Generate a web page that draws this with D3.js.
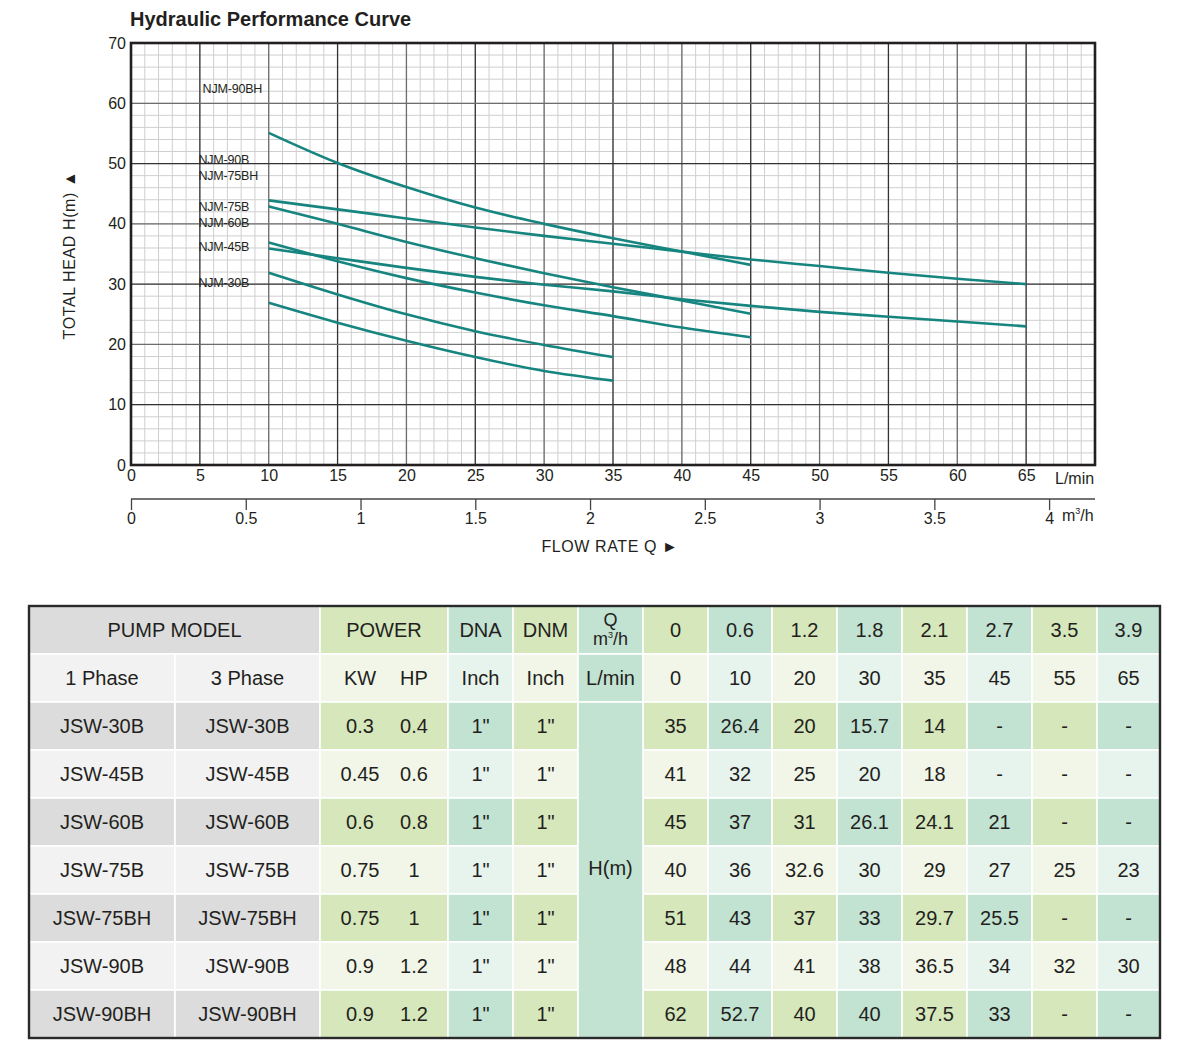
<!DOCTYPE html>
<html><head><meta charset="utf-8">
<script src="https://cdn.jsdelivr.net/npm/d3@7/dist/d3.min.js"></script>
<style>
html,body{margin:0;padding:0;background:#fff;}
svg{display:block;font-family:"Liberation Sans",Arial,sans-serif;}
</style></head>
<body>
<svg id="c" width="1188" height="1063"></svg>
<script>
// ---------- DATA ----------
const flowPts = [10,15,20,25,30,35,40,45,50,55,60,65];
const seriesNames = ["NJM-90BH","NJM-90B","NJM-75BH","NJM-60B","NJM-75B","NJM-45B","NJM-30B"];
const h90BH = [55.1,50.1,46.1,42.7,40.0,37.6,35.4,33.2];
const h90B  = [43.9,42.4,40.9,39.4,38.0,36.7,35.4,34.1,33.0,31.9,30.9,30.0];
const h75BH = [42.9,40.0,37.0,34.3,31.8,29.5,27.3,25.1];
const h60B  = [36.9,33.8,31.0,28.6,26.5,24.7,22.8,21.2];
const h75B  = [35.9,34.3,32.7,31.2,29.9,28.8,27.5,26.4,25.4,24.6,23.8,23.0];
const h45B  = [31.9,28.3,25.0,22.2,19.9,17.9];
const h30B  = [26.9,23.6,20.6,17.9,15.6,14.0];
const allHeads = [h90BH,h90B,h75BH,h60B,h75B,h45B,h30B];

const labelNames = ["NJM-90BH","NJM-90B","NJM-75BH","NJM-75B","NJM-60B","NJM-45B","NJM-30B"];
const labelX = [5.2,4.9,4.9,4.9,4.9,4.9,4.9];
const labelY = [62.5,50.7,48.0,42.9,40.3,36.2,30.3];

const lminTicks = [0,5,10,15,20,25,30,35,40,45,50,55,60,65];
const m3hTicks = [0,0.5,1,1.5,2,2.5,3,3.5,4];
const headTicks = [0,10,20,30,40,50,60,70];

// table data
const flowM3 = ["0","0.6","1.2","1.8","2.1","2.7","3.5","3.9"];
const flowL  = ["0","10","20","30","35","45","55","65"];
const models1 = ["JSW-30B","JSW-45B","JSW-60B","JSW-75B","JSW-75BH","JSW-90B","JSW-90BH"];
const models3 = ["JSW-30B","JSW-45B","JSW-60B","JSW-75B","JSW-75BH","JSW-90B","JSW-90BH"];
const kw = ["0.3","0.45","0.6","0.75","0.75","0.9","0.9"];
const hp = ["0.4","0.6","0.8","1","1","1.2","1.2"];
const dna = ["1\"","1\"","1\"","1\"","1\"","1\"","1\""];
const dnm = ["1\"","1\"","1\"","1\"","1\"","1\"","1\""];
const heads = [
  ["35","26.4","20","15.7","14","-","-","-"],
  ["41","32","25","20","18","-","-","-"],
  ["45","37","31","26.1","24.1","21","-","-"],
  ["40","36","32.6","30","29","27","25","23"],
  ["51","43","37","33","29.7","25.5","-","-"],
  ["48","44","41","38","36.5","34","32","30"],
  ["62","52.7","40","40","37.5","33","-","-"]
];

// ---------- CHART ----------
const svg = d3.select("#c");
const x = d3.scaleLinear().domain([0,70]).range([131,1095]);
const y = d3.scaleLinear().domain([0,70]).range([465,43]);
const x2 = d3.scaleLinear().domain([0,4.2]).range([131,1095]);
const ink = "#231f20";
const FF = "Liberation Sans, Arial, sans-serif";

svg.append("text").attr("x",130).attr("y",26).attr("font-size",20).attr("font-weight","bold")
  .attr("fill",ink).text("Hydraulic Performance Curve");

const g = svg.append("g");
// minor grid
g.selectAll(".vm").data(d3.range(1,70)).join("line")
  .attr("x1",d=>x(d)).attr("x2",d=>x(d)).attr("y1",y(0)).attr("y2",y(70))
  .attr("stroke","#cfcfcf").attr("stroke-width",1);
g.selectAll(".hm").data(d3.range(2,70,2)).join("line")
  .attr("y1",d=>y(d)).attr("y2",d=>y(d)).attr("x1",x(0)).attr("x2",x(70))
  .attr("stroke","#cfcfcf").attr("stroke-width",1);
// major grid
g.selectAll(".vM").data(d3.range(5,70,5)).join("line")
  .attr("x1",d=>x(d)).attr("x2",d=>x(d)).attr("y1",y(0)).attr("y2",y(70))
  .attr("stroke",d=>d%10===0?"#6d6d6d":"#333").attr("stroke-width",1.3);
g.selectAll(".hM").data(d3.range(10,70,10)).join("line")
  .attr("y1",d=>y(d)).attr("y2",d=>y(d)).attr("x1",x(0)).attr("x2",x(70))
  .attr("stroke",d=>d%20===0?"#6d6d6d":"#333").attr("stroke-width",1.3);
// frame
g.append("rect").attr("x",x(0)).attr("y",y(70)).attr("width",x(70)-x(0)).attr("height",y(0)-y(70))
  .attr("fill","none").attr("stroke",ink).attr("stroke-width",2.6);

// axes
const yAxis = d3.axisLeft(y).tickValues(headTicks).tickSize(0).tickPadding(5);
svg.append("g").attr("transform",`translate(${x(0)},0)`).call(yAxis)
  .attr("font-size",16).attr("font-family",FF)
  .call(s=>s.select(".domain").remove())
  .selectAll("text").attr("fill",ink);

const xAxis = d3.axisBottom(x).tickValues(lminTicks).tickSize(0).tickPadding(5);
svg.append("g").attr("transform",`translate(0,${y(0)})`).call(xAxis)
  .attr("font-size",16).attr("font-family",FF)
  .call(s=>s.select(".domain").remove())
  .selectAll("text").attr("fill",ink);
svg.append("text").attr("x",1055).attr("y",484).attr("font-size",16).attr("fill",ink).text("L/min");

const x2Axis = d3.axisBottom(x2).tickValues(m3hTicks).tickSize(11).tickPadding(3).tickSizeOuter(0)
  .tickFormat(d3.format("~g"));
const ax2 = svg.append("g").attr("transform",`translate(0,499)`).call(x2Axis)
  .attr("font-size",16).attr("font-family",FF);
ax2.select(".domain").attr("d",`M${x(0)},0H${x(70)}`).attr("stroke","#444").attr("stroke-width",1.3);
ax2.selectAll(".tick line").attr("stroke","#444").attr("stroke-width",1.3);
ax2.selectAll("text").attr("fill",ink);
const m3 = svg.append("text").attr("x",1062).attr("y",521).attr("font-size",16).attr("fill",ink);
m3.append("tspan").text("m");
m3.append("tspan").attr("dy",-7).attr("font-size",9).text("3");
m3.append("tspan").attr("dy",7).text("/h");

svg.append("text").attr("x",610).attr("y",552).attr("text-anchor","middle").attr("font-size",16)
  .attr("fill",ink).attr("letter-spacing",0.6).text("FLOW RATE Q ►");
svg.append("text").attr("transform","translate(75,255) rotate(-90)").attr("text-anchor","middle")
  .attr("font-size",16).attr("fill",ink).attr("letter-spacing",0.6).text("TOTAL HEAD H(m)  ▲");

// curves
const line = d3.line().x(d=>x(d[0])).y(d=>y(d[1])).curve(d3.curveMonotoneX);
allHeads.forEach((hs,i)=>{
  svg.append("path").datum(hs.map((h,j)=>[flowPts[j],h])).attr("d",line)
    .attr("fill","none").attr("stroke","#17857f").attr("stroke-width",2.6).attr("class","s-"+seriesNames[i]);
});

// curve labels
labelNames.forEach((n,i)=>{
  svg.append("text").attr("x",x(labelX[i])).attr("y",y(labelY[i])+4.5).attr("font-size",12.5)
    .attr("fill",ink).attr("letter-spacing",-0.2).text(n);
});

// ---------- TABLE ----------
const T = svg.append("g");
const colX = [29,175,320,384,448,513,578,643,708,772,837,902,967,1032,1097,1160];
const tTop = 606, rh = 48;
const C = {
  grayS:"#dcdcdc", grayL:"#f2f2f2",
  greenS:"#d6e7bb", greenL:"#f1f6e8",
  mintS:"#c2e2d2", mintL:"#e7f3ed"
};
const font = 20;
function cell(x0,x1,r0,r1,fill){
  T.append("rect").attr("x",x0).attr("y",tTop+r0*rh).attr("width",x1-x0).attr("height",(r1-r0)*rh)
    .attr("fill",fill).attr("stroke","#fff").attr("stroke-width",1.6);
}
function txt(cx,r,s,opts={}){
  return T.append("text").attr("x",cx).attr("y",tTop+r*rh+rh/2+7).attr("text-anchor","middle")
    .attr("font-size",opts.size||font).attr("fill",ink).text(s);
}
// header row 0
cell(colX[0],colX[2],0,1,C.grayS); txt((colX[0]+colX[2])/2,0,"PUMP MODEL");
cell(colX[2],colX[4],0,1,C.greenS); txt((colX[2]+colX[4])/2,0,"POWER");
cell(colX[4],colX[5],0,1,C.mintS); txt((colX[4]+colX[5])/2,0,"DNA");
cell(colX[5],colX[6],0,1,C.greenS); txt((colX[5]+colX[6])/2,0,"DNM");
cell(colX[6],colX[7],0,1,C.mintS);
T.append("text").attr("x",(colX[6]+colX[7])/2).attr("y",tTop+20).attr("text-anchor","middle")
  .attr("font-size",18).attr("fill",ink).text("Q");
const qm = T.append("text").attr("x",(colX[6]+colX[7])/2).attr("y",tTop+39).attr("text-anchor","middle")
  .attr("font-size",18).attr("fill",ink);
qm.append("tspan").text("m");
qm.append("tspan").attr("dy",-7).attr("font-size",9).text("3");
qm.append("tspan").attr("dy",7).text("/h");
// header row 1
cell(colX[0],colX[1],1,2,C.grayL); txt((colX[0]+colX[1])/2,1,"1 Phase");
cell(colX[1],colX[2],1,2,C.grayL); txt((colX[1]+colX[2])/2,1,"3 Phase");
cell(colX[2],colX[4],1,2,C.greenL); txt((colX[2]+colX[3])/2+8,1,"KW"); txt((colX[3]+colX[4])/2-2,1,"HP");
cell(colX[4],colX[5],1,2,C.mintL); txt((colX[4]+colX[5])/2,1,"Inch");
cell(colX[5],colX[6],1,2,C.greenL); txt((colX[5]+colX[6])/2,1,"Inch");
cell(colX[6],colX[7],1,2,C.mintS); txt((colX[6]+colX[7])/2,1,"L/min");
flowM3.forEach((v,j)=>{
  const xa=colX[7+j], xb=colX[8+j];
  cell(xa,xb,0,1,j%2===0?C.greenS:C.mintS); txt((xa+xb)/2,0,v);
  cell(xa,xb,1,2,j%2===0?C.greenL:C.mintL); txt((xa+xb)/2,1,flowL[j]);
});
// data rows
models1.forEach((m,i)=>{
  const r = i+2, strong = (i%2===0);
  cell(colX[0],colX[1],r,r+1,strong?C.grayS:C.grayL); txt((colX[0]+colX[1])/2,r,m);
  cell(colX[1],colX[2],r,r+1,strong?C.grayS:C.grayL); txt((colX[1]+colX[2])/2,r,models3[i]);
  cell(colX[2],colX[4],r,r+1,strong?C.greenS:C.greenL);
  txt((colX[2]+colX[3])/2+8,r,kw[i]); txt((colX[3]+colX[4])/2-2,r,hp[i]);
  cell(colX[4],colX[5],r,r+1,strong?C.mintS:C.mintL); txt((colX[4]+colX[5])/2,r,dna[i]);
  cell(colX[5],colX[6],r,r+1,strong?C.greenS:C.greenL); txt((colX[5]+colX[6])/2,r,dnm[i]);
  heads[i].forEach((v,j)=>{
    const xa=colX[7+j], xb=colX[8+j];
    const f = j%2===0 ? (strong?C.greenS:C.greenL) : (strong?C.mintS:C.mintL);
    cell(xa,xb,r,r+1,f); txt((xa+xb)/2,r,v);
  });
});
// merged H(m)
cell(colX[6],colX[7],2,9,C.mintS);
T.append("text").attr("x",(colX[6]+colX[7])/2).attr("y",tTop+2*rh+3.5*rh+5).attr("text-anchor","middle")
  .attr("font-size",font).attr("fill",ink).text("H(m)");
// outer border
T.append("rect").attr("x",colX[0]).attr("y",tTop).attr("width",colX[15]-colX[0]).attr("height",9*rh)
  .attr("fill","none").attr("stroke","#2a2a2a").attr("stroke-width",2.4);
</script>
</body></html>
